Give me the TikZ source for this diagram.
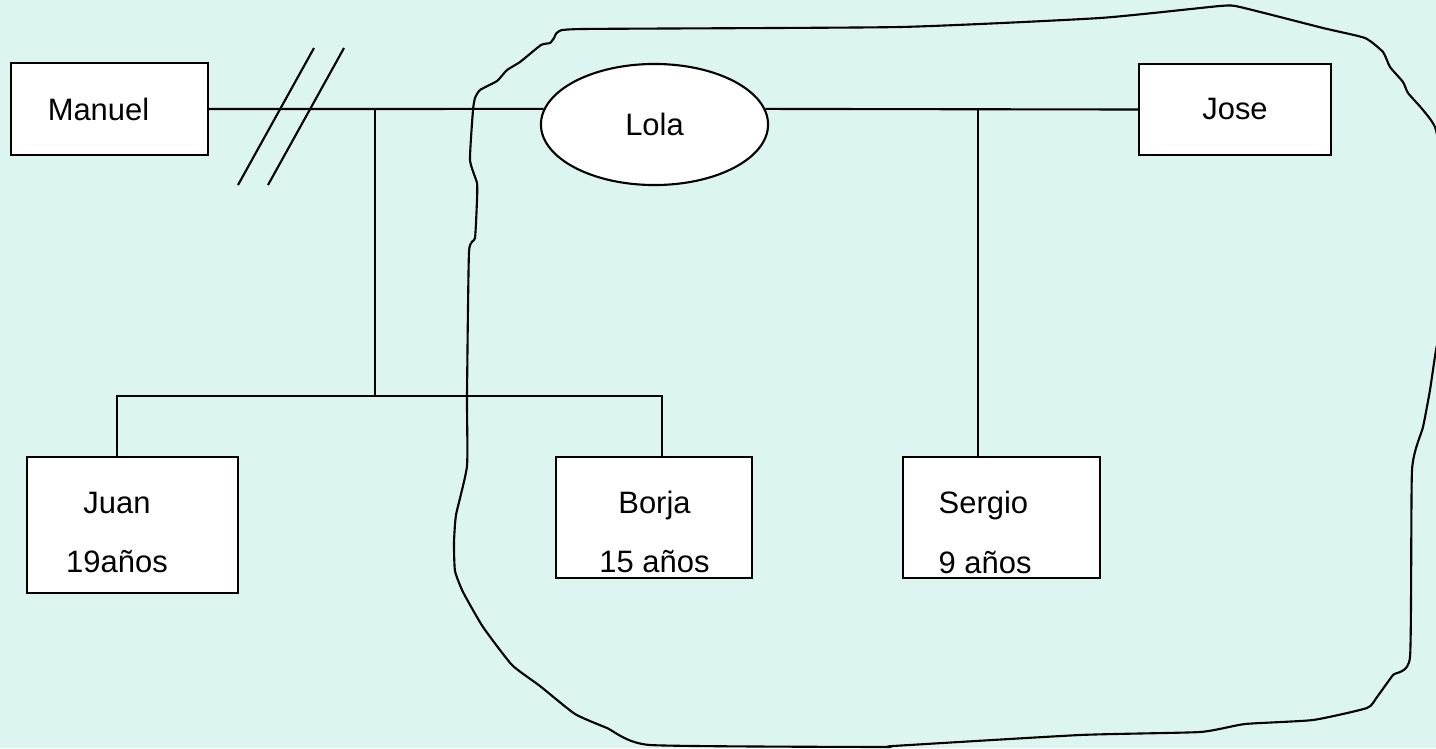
\documentclass[tikz,border=0pt]{standalone}
\usepackage{fontspec}
\setmainfont{Liberation Sans}
\usetikzlibrary{shapes.geometric, positioning, calc}
\definecolor{fondo}{RGB}{220,245,241}

\begin{document}
\begin{tikzpicture}[
        x=0.01cm, y=-0.01cm,
        box/.style={rectangle, draw, fill=white, line width=0.6pt, inner sep=0pt, font=\fontsize{8.8}{16.9}\selectfont},
        oval/.style={ellipse, draw, fill=white, line width=0.6pt, inner sep=0pt, font=\fontsize{8.8}{16.9}\selectfont},
        txt/.style={inner sep=0pt, align=center, font=\fontsize{8.8}{16.9}\selectfont},
        conn/.style={line width=0.6pt}
    ]
        \useasboundingbox (0,0) rectangle (1436,748);
        \clip (0,0) rectangle (1436,748);
        \fill[fondo] (0,0) rectangle (1436,748);

        % Freehand outline round Lola's household
        \draw[conn, line join=round] plot[smooth cycle, tension=0.3] coordinates {
            (558,32) (583,29) (900,27) (1100,18) (1220,6) (1240,7) (1323,28)
            (1365,38) (1383,52) (1390,67) (1403,82) (1408,93) (1423,110)
            (1436,130) (1446,200) (1446,300) (1436,350) (1430,390) (1423,427)
            (1412,470) (1410,657) (1393,675) (1377,697) (1367,708) (1313,720)
            (1245,724) (1200,732) (1080,735) (893,746) (883,747) (650,745)
            (607,728) (575,714) (540,686) (512,665) (483,627) (463,592)
            (455,571) (454,543) (456,515) (467,466) (467,396) (469,252)
            (475,238) (477,200) (477,183) (470,160) (473,110) (475,98)
            (480,90) (497,81) (507,70) (520,62) (541,45) (550,43) (554,38)};

        % Row 1: parents
        \node[box, minimum width=1.97cm, minimum height=0.92cm] (manuel) at (109.5,109) {};
        \node[txt] (manuel-t) at (98.5,109.5) {Manuel};
        \node[oval, minimum width=2.27cm, minimum height=1.21cm] (lola) at (654.5,124.5) {Lola};
        \node[box, minimum width=1.92cm, minimum height=0.91cm] (jose) at (1235,109.5) {Jose};

        % Row 2: children
        \node[box, minimum width=2.11cm, minimum height=1.36cm] (juan) at (132.5,525) {};
        \node[txt] (juan-t) at (117,532.5) {Juan\\19años};
        \node[box, minimum width=1.96cm, minimum height=1.21cm] (borja) at (654,517.5) {};
        \node[txt] (borja-t) at (654.5,532) {Borja\\15 años};
        \node[box, minimum width=1.97cm, minimum height=1.21cm] (sergio) at (1001.5,517.5) {};
        \node[txt, anchor=west, align=left] (sergio-t) at (938,532.5) {Sergio\\9 años};

        % Junction points
        \coordinate (pareja) at (375,109);
        \coordinate (hijos) at (375,396);

        % Family lines
        \draw[conn] (manuel.east) -- (lola.172);
        \draw[conn] (lola.8) -- (jose.west);
        \draw[conn] (pareja) -- (hijos);
        \draw[conn] ([xshift=-1.55mm]juan.north) |- (hijos) -| ([xshift=0.8mm]borja.north);
        \draw[conn] ([xshift=-2.35mm]sergio.north) -- ([xshift=-2.35mm]sergio.north |- jose.west);

        % Divorce marks
        \draw[conn] (238,185) -- (314,48);
        \draw[conn] (268,185) -- (344,48);
\end{tikzpicture}
\end{document}
